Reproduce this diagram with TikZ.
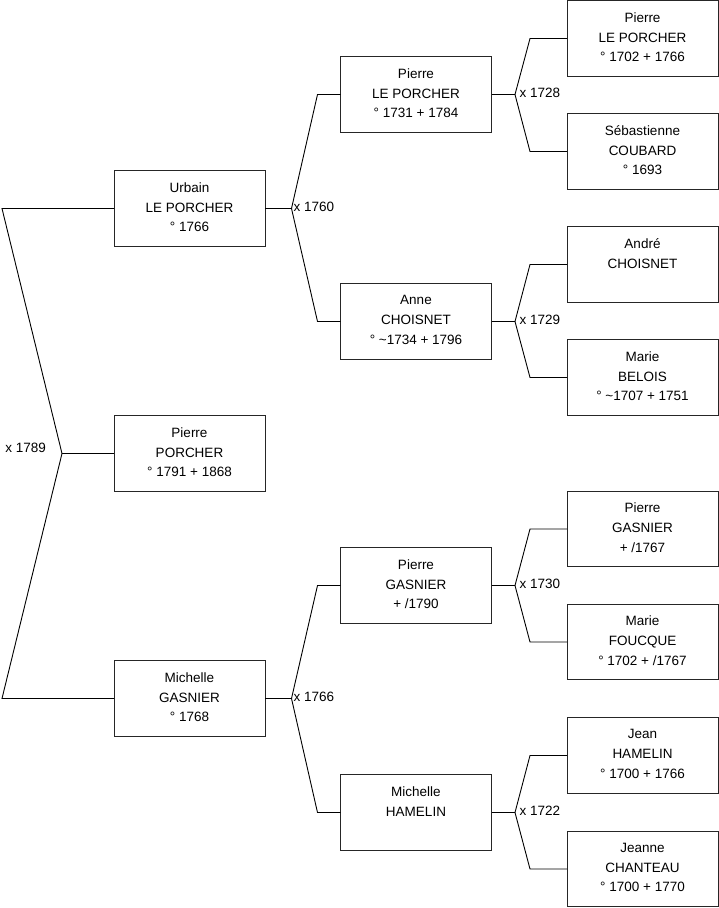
\documentclass[tikz,border=0pt]{standalone}
\usepackage{fontspec}
\setmainfont{Liberation Sans}
\newlength\bendx
\newlength\joinx
\newlength\labx
\newcommand\person[4]{%
  \node[pbox] (#1) at (#2,#3) {};
  \node[ptext] (#1-t) at ([yshift=-11.7pt]#1.north) {#4};}
\newcommand\couple[4]{% child, father, mother, label
  \coordinate (j-#1) at ([xshift=\joinx]#1.east);
  \draw[conn] (#1.east) -- (j-#1);
  \draw[conn] (#2.west) -- ([xshift=-\bendx]#2.west) -- (j-#1) -- ([xshift=-\bendx]#3.west) -- (#3.west);
  \node[mlabel, anchor=base west] (l-#1) at ([xshift=\labx,yshift=-2.6pt]j-#1) {#4};}
\begin{document}
\begin{tikzpicture}[x=1pt,y=-1pt,
  pbox/.style={draw=black!85, line width=0.9pt, minimum width=151pt, minimum height=75.5pt, inner sep=0pt, outer sep=0pt},
  ptext/.style={anchor=north, align=center, inner sep=0pt, font=\fontsize{13.5}{19.7}\selectfont, execute at begin node=\rule{0pt}{10pt}},
  conn/.style={draw=black, line width=0.9pt},
  mlabel/.style={inner sep=0pt, font=\fontsize{13.5}{16}\selectfont}]
\useasboundingbox (0,0) rectangle (719,908);
% generation 1
\person{u}{189.5}{208.5}{Urbain\\LE PORCHER\\° 1766}
\person{pp}{189.5}{453.5}{Pierre\\PORCHER\\° 1791 + 1868}
\person{mg}{189.5}{698.5}{Michelle\\GASNIER\\° 1768}
% generation 2
\person{plp}{416}{94.5}{Pierre\\LE PORCHER\\° 1731 + 1784}
\person{ac}{416}{321.5}{Anne\\CHOISNET\\° \textasciitilde1734 + 1796}
\person{pg}{416}{585.5}{Pierre\\GASNIER\\+ /1790}
\person{mh}{416}{812.5}{Michelle\\HAMELIN}
% generation 3
\person{plpb}{642.5}{38.5}{Pierre\\LE PORCHER\\° 1702 + 1766}
\person{sc}{642.5}{151.5}{Sébastienne\\COUBARD\\° 1693}
\person{ach}{642.5}{264.5}{André\\CHOISNET}
\person{mb}{642.5}{377.5}{Marie\\BELOIS\\° \textasciitilde1707 + 1751}
\person{pgb}{642.5}{529}{Pierre\\GASNIER\\+ /1767}
\person{mf}{642.5}{642}{Marie\\FOUCQUE\\° 1702 + /1767}
\person{jh}{642.5}{755.5}{Jean\\HAMELIN\\° 1700 + 1766}
\person{jc}{642.5}{869}{Jeanne\\CHANTEAU\\° 1700 + 1770}
% root couple
\coordinate (j-pp) at ([xshift=-52pt]pp.west);
\draw[conn] (u.west) -- ([xshift=-112pt]u.west) -- (j-pp) -- ([xshift=-112pt]mg.west) -- (mg.west);
\draw[conn] (j-pp) -- (pp.west);
\node[mlabel, anchor=base east] (l-pp) at ([xshift=-16pt,yshift=1.5pt]j-pp) {x 1789};
% other couples
\setlength\bendx{23pt}\setlength\joinx{26.5pt}\setlength\labx{2pt}
\couple{u}{plp}{ac}{x 1760}
\couple{mg}{pg}{mh}{x 1766}
\setlength\bendx{37pt}\setlength\joinx{23.5pt}\setlength\labx{4.5pt}
\couple{plp}{plpb}{sc}{x 1728}
\couple{ac}{ach}{mb}{x 1729}
\couple{pg}{pgb}{mf}{x 1730}
\couple{mh}{jh}{jc}{x 1722}
\end{tikzpicture}
\end{document}
